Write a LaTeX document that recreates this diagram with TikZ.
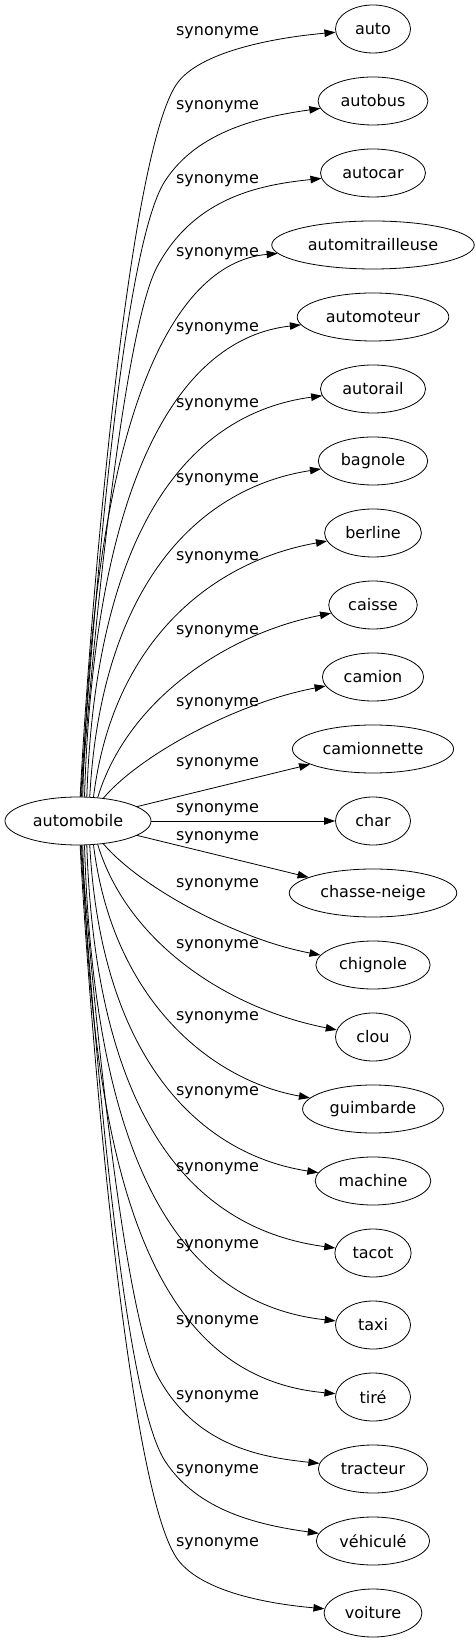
\documentclass[tikz,border=0pt]{standalone}
\usepackage{fontspec}
\setmainfont{DejaVu Sans}
\usetikzlibrary{shapes.geometric,arrows.meta}

\begin{document}
\begin{tikzpicture}[x=1pt,y=1pt,
    word/.style={draw, ellipse, minimum width=75pt, minimum height=48pt,
      inner xsep=6.5pt, inner ysep=0pt, line width=0.8pt, font=\fontsize{16}{19}\selectfont},
    lbl/.style={inner sep=0pt, font=\fontsize{16}{19}\selectfont},
    syn/.style={-{Triangle[length=11pt,width=7.5pt]}, line width=0.8pt}]
    \useasboundingbox (0,-822) rectangle (476,821);
    \node[word] (automobile) at (78,0) {automobile};
    \node[word] (auto) at (373,792) {auto};
    \node[word] (autobus) at (373,720) {autobus};
    \node[word] (autocar) at (373,648) {autocar};
    \node[word] (automitrailleuse) at (373,576) {automitrailleuse};
    \node[word] (automoteur) at (373,504) {automoteur};
    \node[word] (autorail) at (373,432) {autorail};
    \node[word] (bagnole) at (373,360) {bagnole};
    \node[word] (berline) at (373,288) {berline};
    \node[word] (caisse) at (373,216) {caisse};
    \node[word] (camion) at (373,144) {camion};
    \node[word] (camionnette) at (373,72) {camionnette};
    \node[word] (char) at (373,0) {char};
    \node[word] (chasseneige) at (373,-72) {chasse-neige};
    \node[word] (chignole) at (373,-144) {chignole};
    \node[word] (clou) at (373,-216) {clou};
    \node[word] (guimbarde) at (373,-288) {guimbarde};
    \node[word] (machine) at (373,-360) {machine};
    \node[word] (tacot) at (373,-432) {tacot};
    \node[word] (taxi) at (373,-504) {taxi};
    \node[word] (tire) at (373,-576) {tiré};
    \node[word] (tracteur) at (373,-648) {tracteur};
    \node[word] (vehicule) at (373,-720) {véhiculé};
    \node[word] (voiture) at (373,-792) {voiture};
    % edge labels
    \node[lbl] (l1) at (217.5,788) {synonyme};
    \node[lbl] (l2) at (217.5,714) {synonyme};
    \node[lbl] (l3) at (217.5,640) {synonyme};
    \node[lbl] (l4) at (217.5,567) {synonyme};
    \node[lbl] (l5) at (217.5,492) {synonyme};
    \node[lbl] (l6) at (217.5,416) {synonyme};
    \node[lbl] (l7) at (217.5,341) {synonyme};
    \node[lbl] (l8) at (217.5,263) {synonyme};
    \node[lbl] (l9) at (217.5,189) {synonyme};
    \node[lbl] (l10) at (217.5,117) {synonyme};
    \node[lbl] (l11) at (217.5,57) {synonyme};
    \node[lbl] (l12) at (217.5,11) {synonyme};
    \node[lbl] (l13) at (217.5,-17) {synonyme};
    \node[lbl] (l14) at (217.5,-64) {synonyme};
    \node[lbl] (l15) at (217.5,-125) {synonyme};
    \node[lbl] (l16) at (217.5,-197) {synonyme};
    \node[lbl] (l17) at (217.5,-272) {synonyme};
    \node[lbl] (l18) at (217.5,-348) {synonyme};
    \node[lbl] (l19) at (217.5,-425) {synonyme};
    \node[lbl] (l20) at (217.5,-501) {synonyme};
    \node[lbl] (l21) at (217.5,-576) {synonyme};
    \node[lbl] (l22) at (217.5,-650) {synonyme};
    \node[lbl] (l23) at (217.5,-723) {synonyme};
    % bends of the long edges
    \coordinate (b-auto) at (176,736);
    \coordinate (b-autobus) at (165,640);
    \coordinate (b-autocar) at (157,554);
    \coordinate (b-tracteur) at (157,-554);
    \coordinate (b-vehicule) at (165,-640);
    \coordinate (b-voiture) at (176,-736);
    % edges
    \draw[syn] (automobile.85) to[out=87,in=237,out distance=180pt,in distance=90pt] (b-auto)
      to[out=57,in=185,out distance=40pt,in distance=60pt] (auto);
    \draw[syn] (automobile.84) to[out=86,in=237,out distance=170pt,in distance=80pt] (b-autobus)
      to[out=57,in=188,out distance=60pt,in distance=60pt] (autobus);
    \draw[syn] (automobile.82) to[out=86,in=242,out distance=160pt,in distance=70pt] (b-autocar)
      to[out=62,in=186,out distance=80pt,in distance=60pt] (autocar);
    \draw[syn] (automobile.79) .. controls (92.7,399) and (170,558) .. (automitrailleuse);
    \draw[syn] (automobile.75) .. controls (94.4,346) and (181,483) .. (automoteur);
    \draw[syn] (automobile.70) .. controls (95.7,297) and (192,408) .. (autorail);
    \draw[syn] (automobile.64) .. controls (101.5,242) and (203,334) .. (bagnole);
    \draw[syn] (automobile.57) .. controls (113,182) and (214,260) .. (berline);
    \draw[syn] (automobile.50) .. controls (127,120) and (225,187) .. (caisse);
    \draw[syn] (automobile.42) .. controls (140,66) and (236,118) .. (camion);
    \draw[syn] (automobile) -- (camionnette);
    \draw[syn] (automobile) -- (char);
    \draw[syn] (automobile) -- (chasseneige);
    \draw[syn] (automobile.-42) .. controls (140,-66) and (236,-118) .. (chignole);
    \draw[syn] (automobile.-50) .. controls (127,-120) and (225,-187) .. (clou);
    \draw[syn] (automobile.-57) .. controls (113,-182) and (214,-260) .. (guimbarde);
    \draw[syn] (automobile.-64) .. controls (101.5,-242) and (203,-334) .. (machine);
    \draw[syn] (automobile.-70) .. controls (95.7,-297) and (192,-408) .. (tacot);
    \draw[syn] (automobile.-75) .. controls (94.4,-346) and (181,-483) .. (taxi);
    \draw[syn] (automobile.-79) .. controls (92.7,-399) and (170,-558) .. (tire);
    \draw[syn] (automobile.-82) to[out=-86,in=118,out distance=160pt,in distance=70pt] (b-tracteur)
      to[out=-62,in=174,out distance=80pt,in distance=60pt] (tracteur);
    \draw[syn] (automobile.-84) to[out=-86,in=123,out distance=170pt,in distance=80pt] (b-vehicule)
      to[out=-57,in=172,out distance=60pt,in distance=60pt] (vehicule);
    \draw[syn] (automobile.-85) to[out=-87,in=123,out distance=180pt,in distance=90pt] (b-voiture)
      to[out=-57,in=175,out distance=40pt,in distance=60pt] (voiture);
\end{tikzpicture}
\end{document}
